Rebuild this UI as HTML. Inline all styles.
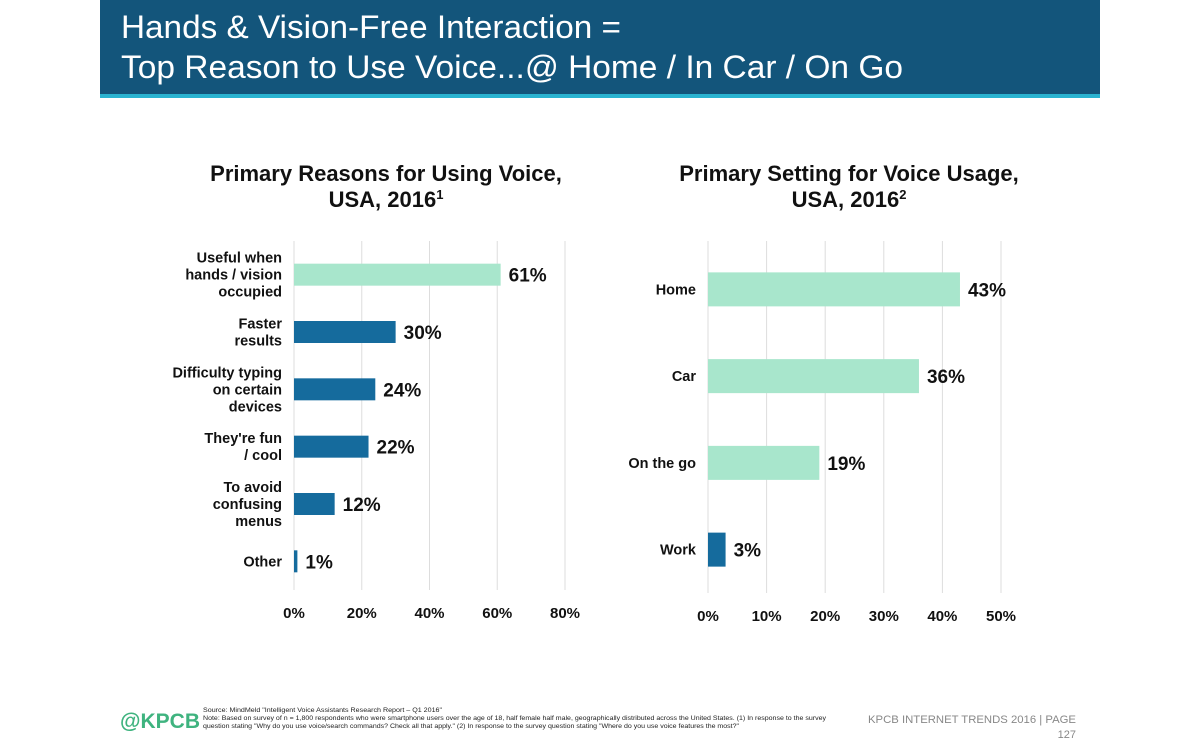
<!DOCTYPE html>
<html><head><meta charset="utf-8"><style>
body{margin:0;width:1200px;height:750px;background:#fff;overflow:hidden;font-family:"Liberation Sans",Arial,sans-serif}
</style></head><body>
<svg width="1200" height="750" xmlns="http://www.w3.org/2000/svg" font-family="Liberation Sans, Arial, sans-serif">
<rect x="100" y="0" width="1000" height="94" fill="#13557b"/>
<rect x="100" y="94" width="1000" height="4" fill="#2ab3d0"/>
<text x="121" y="38" font-size="32" fill="#fff" textLength="500" lengthAdjust="spacingAndGlyphs">Hands &amp; Vision-Free Interaction =</text>
<text x="121" y="78" font-size="32" fill="#fff" textLength="782" lengthAdjust="spacingAndGlyphs">Top Reason to Use Voice...@ Home / In Car / On Go</text>

<text x="386" y="181" font-size="22" font-weight="bold" text-anchor="middle" fill="#111">Primary Reasons for Using Voice,</text>
<text x="386" y="207" font-size="22" font-weight="bold" text-anchor="middle" fill="#111">USA, 2016<tspan font-size="13" dy="-8">1</tspan></text>
<text x="849" y="181" font-size="22" font-weight="bold" text-anchor="middle" fill="#111">Primary Setting for Voice Usage,</text>
<text x="849" y="207" font-size="22" font-weight="bold" text-anchor="middle" fill="#111">USA, 2016<tspan font-size="13" dy="-8">2</tspan></text>

<g id="left"></g>
<g id="right"></g>

<text x="120" y="728" font-size="21" font-weight="bold" fill="#3fb37f">@KPCB</text>
<text x="203" y="712" font-size="6" fill="#222" textLength="239" lengthAdjust="spacingAndGlyphs">Source: MindMeld "Intelligent Voice Assistants Research Report – Q1 2016"</text>
<text x="203" y="720" font-size="6" fill="#222" textLength="623" lengthAdjust="spacingAndGlyphs">Note: Based on survey of n = 1,800 respondents who were smartphone users over the age of 18, half female half male, geographically distributed across the United States. (1) In response to the survey</text>
<text x="203" y="728" font-size="6" fill="#222" textLength="536" lengthAdjust="spacingAndGlyphs">question stating "Why do you use voice/search commands? Check all that apply." (2) In response to the survey question stating "Where do you use voice features the most?"</text>
<text x="868" y="723" font-size="11" fill="#888" textLength="208" lengthAdjust="spacingAndGlyphs">KPCB INTERNET TRENDS 2016  |  PAGE</text>
<text x="1076" y="738" font-size="11" fill="#888" text-anchor="end">127</text>
</svg>
<script>
const leftCats=[["Useful when","hands / vision","occupied"],["Faster","results"],["Difficulty typing","on certain","devices"],["They're fun","/ cool"],["To avoid","confusing","menus"],["Other"]];
const leftVals=[61,30,24,22,12,1];
const leftTicks=[0,20,40,60,80];
const rightCats=[["Home"],["Car"],["On the go"],["Work"]];
const rightVals=[43,36,19,3];
const rightTicks=[0,10,20,30,40,50];
const NS="http://www.w3.org/2000/svg";
function mk(p,t,a){const e=document.createElementNS(NS,t);for(const k in a)e.setAttribute(k,a[k]);p.appendChild(e);return e;}
function draw(g,cats,vals,ticks,x0,x1,yTop,yBot,barH,colorFn,nm){
  const max=ticks[ticks.length-1];
  const X=v=>x0+(x1-x0)*v/max;
  const band=(yBot-yTop)/cats.length;
  const Y=i=>yTop+band*(i+0.5);
  ticks.forEach(t=>{
    const l=mk(g,'line',{x1:X(t),x2:X(t),y1:yTop-5,y2:yBot,stroke:'#ddd','stroke-width':1});
    
    
    const tx=mk(g,'text',{x:X(t),y:yBot+28,'font-size':15,'font-weight':'bold','text-anchor':'middle',fill:'#111'});
    tx.textContent=t+'%';
    
    
  });
  vals.forEach((v,i)=>{
    const r=mk(g,'rect',{x:X(0),y:Y(i)-barH/2,width:X(v)-X(0),height:barH,fill:colorFn(i)});
    
    
    const lb=mk(g,'text',{x:X(v)+8,y:Y(i)+7,'font-size':19,'font-weight':'bold',fill:'#111'});
    lb.textContent=v+'%';
    
    
    const lines=cats[i];
    lines.forEach((s,j)=>{
      const t=mk(g,'text',{x:X(0)-12,y:Y(i)+5+(j-(lines.length-1)/2)*17,'font-size':14.5,'font-weight':'bold','text-anchor':'end',fill:'#111'});
      t.textContent=s;
      
      
    });
  });
}
draw(document.getElementById('left'),leftCats,leftVals,leftTicks,294,565,246,590,22,i=>i===0?'#a8e6cc':'#156b9d','left');
draw(document.getElementById('right'),rightCats,rightVals,rightTicks,708,1001,246,593,34,i=>i<3?'#a8e6cc':'#156b9d','right');
</script>
</body></html>
